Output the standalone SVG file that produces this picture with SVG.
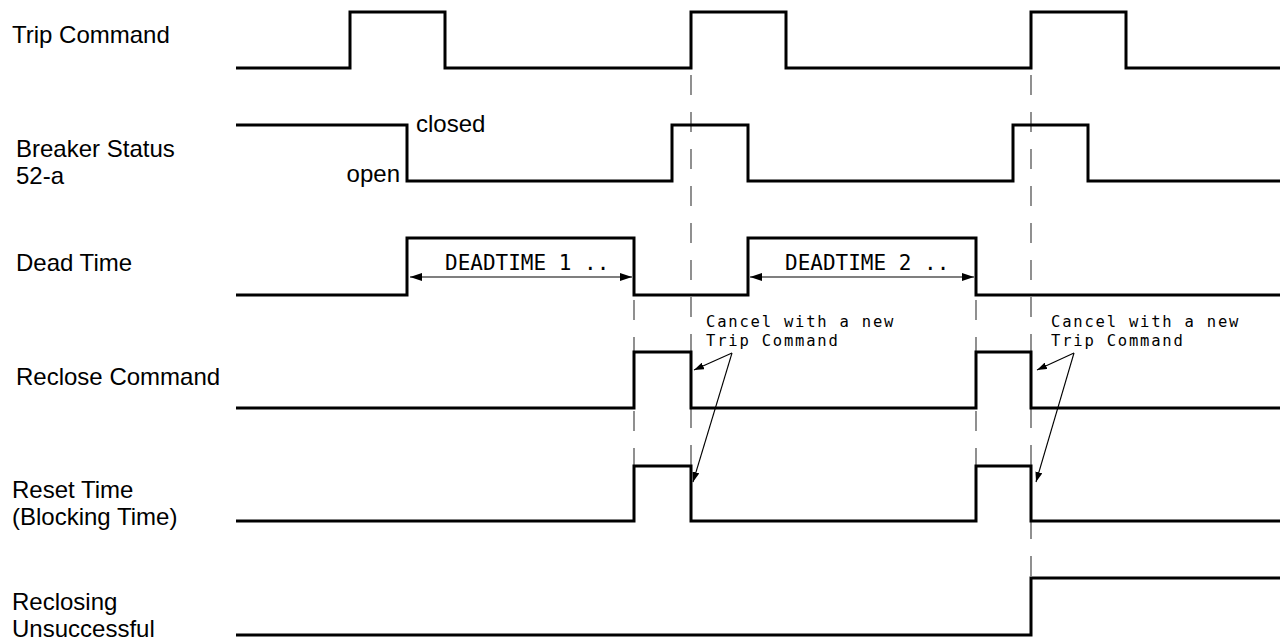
<svg xmlns="http://www.w3.org/2000/svg" width="1282" height="640" viewBox="0 0 1282 640">
<style>
.lbl{font-family:"Liberation Sans",Arial,sans-serif;font-size:24px;fill:#000}
.mono{font-family:"DejaVu Sans Mono","Liberation Mono",monospace;fill:#000}
.note{font-size:15.5px;letter-spacing:1.8px}
.trace{fill:none;stroke:#000;stroke-width:3;stroke-linejoin:miter}
.dash{stroke:#555;stroke-width:1.3;stroke-dasharray:20 17;fill:none}
.arr{stroke:#000;stroke-width:1.1;fill:none}
</style>
<defs>
<marker id="ah" viewBox="0 0 12 8" refX="12" refY="4" markerWidth="12" markerHeight="8" markerUnits="userSpaceOnUse" orient="auto-start-reverse">
<path d="M0,0 L12,4 L0,8 z" fill="#000"/>
</marker>
<marker id="ahs" viewBox="0 0 10 7" refX="10" refY="3.5" markerWidth="10" markerHeight="7" markerUnits="userSpaceOnUse" orient="auto">
<path d="M0,0 L10,3.5 L0,7 z" fill="#000"/>
</marker>
</defs>
<rect width="1282" height="640" fill="#fff"/>
<g id="labels">
<text class="lbl" x="12" y="43">Trip Command</text>
<text class="lbl" x="16" y="157">Breaker Status</text>
<text class="lbl" x="16" y="184">52-a</text>
<text class="lbl" x="16" y="271">Dead Time</text>
<text class="lbl" x="16" y="385">Reclose Command</text>
<text class="lbl" x="12" y="498">Reset Time</text>
<text class="lbl" x="12" y="525">(Blocking Time)</text>
<text class="lbl" x="12" y="610">Reclosing</text>
<text class="lbl" x="12" y="637">Unsuccessful</text>
</g>
<g id="guides">
<line class="dash" x1="691" y1="75" x2="691" y2="466"/>
<line class="dash" x1="1031" y1="75" x2="1031" y2="578"/>
<line class="dash" x1="634" y1="300" x2="634" y2="466"/>
<line class="dash" x1="976" y1="300" x2="976" y2="466"/>
</g>
<g id="trip-command"><polyline class="trace" points="236,68 350,68 350,12 445,12 445,68 691,68 691,12 786,12 786,68 1031,68 1031,12 1126,12 1126,68 1280,68"/></g>
<g id="breaker-status">
<polyline class="trace" points="236,125 407,125 407,181 672,181 672,125 748,125 748,181 1013,181 1013,125 1088,125 1088,181 1280,181"/>
<text class="lbl" x="416" y="132">closed</text>
<text class="lbl" x="400" y="182" text-anchor="end">open</text>
</g>
<g id="dead-time">
<polyline class="trace" points="236,295 407,295 407,238 634,238 634,295 748,295 748,238 976,238 976,295 1280,295"/>
<text class="mono" x="445" y="270" font-size="21">DEADTIME 1 ..</text>
<text class="mono" x="785" y="270" font-size="21">DEADTIME 2 ..</text>
</g>
<g id="reclose-command"><polyline class="trace" points="236,408 634,408 634,352 691,352 691,408 976,408 976,352 1031,352 1031,408 1280,408"/></g>
<g id="reset-time"><polyline class="trace" points="236,521 634,521 634,466 691,466 691,521 976,521 976,466 1031,466 1031,521 1280,521"/></g>
<g id="reclosing-unsuccessful"><polyline class="trace" points="236,635 1031,635 1031,578 1280,578"/></g>
<g id="notes">
<text class="mono note" x="706" y="327">Cancel with a new</text>
<text class="mono note" x="706" y="346">Trip Command</text>
<text class="mono note" x="1051" y="327">Cancel with a new</text>
<text class="mono note" x="1051" y="346">Trip Command</text>
</g>
<g id="connectors">
<line class="arr" x1="410" y1="277" x2="632" y2="277" marker-start="url(#ah)" marker-end="url(#ah)"/>
<line class="arr" x1="750" y1="277" x2="974" y2="277" marker-start="url(#ah)" marker-end="url(#ah)"/>
<line class="arr" x1="732" y1="353" x2="694" y2="370" marker-end="url(#ahs)"/>
<line class="arr" x1="732" y1="353" x2="693" y2="482" marker-end="url(#ahs)"/>
<line class="arr" x1="1074" y1="353" x2="1037" y2="370" marker-end="url(#ahs)"/>
<line class="arr" x1="1074" y1="353" x2="1036" y2="482" marker-end="url(#ahs)"/>
</g>
</svg>
